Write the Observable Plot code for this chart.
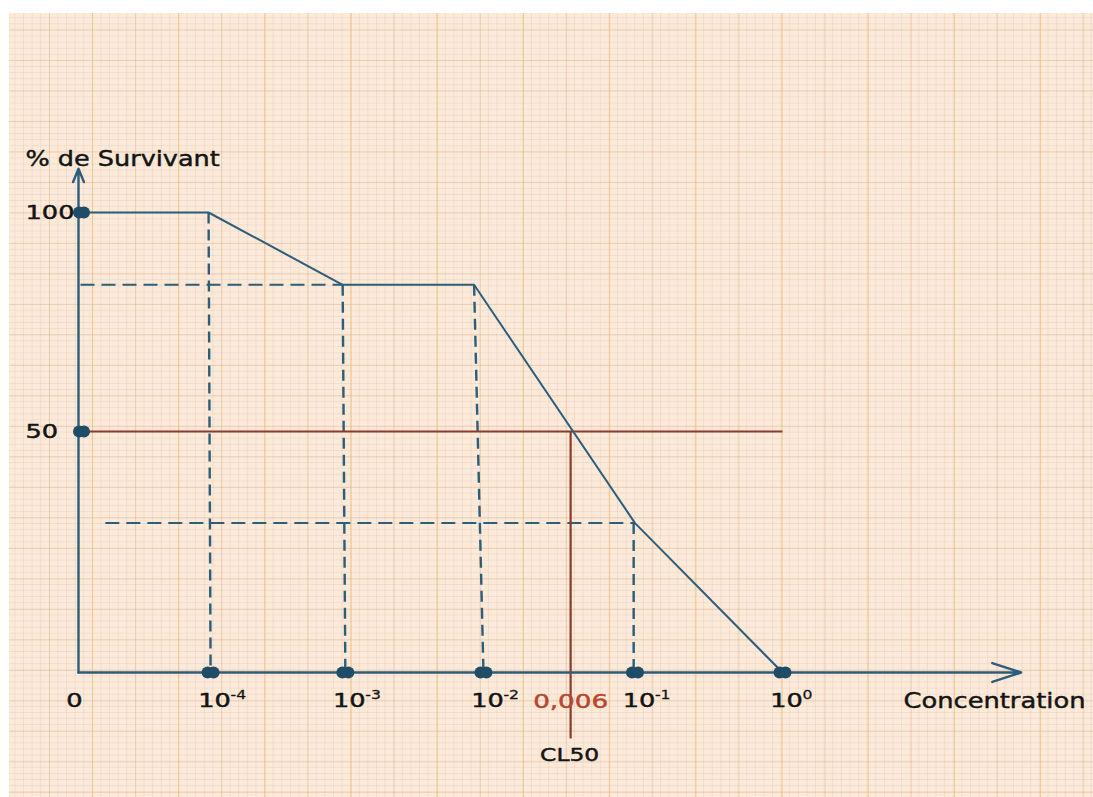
<!DOCTYPE html>
<html>
<head>
<meta charset="utf-8">
<script src="https://cdn.jsdelivr.net/npm/d3@7"></script>
<script src="https://cdn.jsdelivr.net/npm/@observablehq/plot@0.6"></script>
<style>
  html, body { margin: 0; padding: 0; background: #ffffff; }
  #wrap { position: relative; width: 1093px; height: 797px; overflow: hidden; }
  #paper {
    position: absolute; left: 9px; top: 13px; right: 0; bottom: 0;
    background-color: #fcead8;
    background-image:
      linear-gradient(to right, rgba(236,200,120,0.55) 1.4px, transparent 1.4px),
      linear-gradient(to bottom, rgba(236,200,120,0.55) 1.4px, transparent 1.4px),
      linear-gradient(to right, rgba(228,172,135,0.38) 1.1px, transparent 1.1px),
      linear-gradient(to bottom, rgba(228,172,135,0.38) 1.1px, transparent 1.1px),
      linear-gradient(to right, rgba(195,165,165,0.2) 1px, transparent 1px),
      linear-gradient(to bottom, rgba(195,165,165,0.2) 1px, transparent 1px);
    background-size: 86.2px 61px, 86.2px 61px, 43.1px 30.5px, 43.1px 30.5px, 8.62px 6.1px, 8.62px 6.1px;
    background-position: 83px 47px, 83px 47px, 40px 16.5px, 40px 16.5px, 5.4px 4.3px, 5.4px 4.3px;
  }
  #chart { position: absolute; left: 0; top: 0; }
</style>
</head>
<body>
<div id="wrap"><div id="paper"></div><div id="chart"></div></div>
<script>
// ---- data (x in "decade step" units along the hand-drawn axis, y in % survivors)
const curveX = [0, 0.97, 1.97, 2.95, 4.15, 5.25];
const curveY = [100, 100, 83.5, 83.5, 31, 0];

const tickPos = [0.985, 1.99, 3.02, 4.15, 5.25];
const tickBase = ["10", "10", "10", "10", "10"];
const tickExp = ["-4", "-3", "-2", "-1", "0"];

const yTicks = [100, 50];
const yTickLabels = ["100", "50"];

// dashed guide lines (from curve vertices to axes)
const dashVX1 = [0.97, 1.97, 2.95, 4.14];
const dashVY1 = [100, 83.5, 83.5, 31];
const dashVX2 = [0.985, 1.99, 3.02, 4.14];
const dashHY = [83.5, 31];
const dashHX1 = [0.015, 0.2];
const dashHX2 = [1.97, 4.15];

const cl50Pos = 3.67;
const cl50Value = "0,006";
const cl50Label = "CL50";
const xMax = 5.25;       // 10^0
const xArrowEnd = 7.03;
const yArrowEnd = 110;
const cl50LineBottom = -13.7;

const xTitle = "Concentration";
const xTitlePos = 6.152;
const yTitle = "% de Survivant";

// ---- build tables
const curve = curveX.map((x, i) => ({x, y: curveY[i]}));
const ticks = tickPos.map((x, i) => ({x, base: tickBase[i], exp: tickExp[i]}));
const dashV = dashVX1.map((x1, i) => ({x1, y1: dashVY1[i], x2: dashVX2[i], y2: 0}));
const dashH = dashHY.map((y, i) => ({y, x1: dashHX1[i], x2: dashHX2[i]}));
const yDots = yTicks.map((y, i) => ({y, label: yTickLabels[i]}));

const blue = "#2c5d7b";
const dotC = "#1f4d68";
const red = "#8c3a2c";
const redText = "#b9462f";
const ink = "#141414";
const font = "DejaVu Sans";
const dash = "11,6";

// hand-drawn vertical axis: 0 → 672px, 50 → 431px, 100 → 212px (piecewise linear)
const yPix = d3.scaleLinear().domain([0, 0.5, 1]).range([672, 431, 212]);

const txt = (extra) => Object.assign({textAnchor: "middle", lineAnchor: "bottom", fill: ink, stroke: ink, strokeWidth: 0.45}, extra);

const chart = Plot.plot({
  width: 1093,
  height: 797,
  marginLeft: 78, marginRight: 311, marginTop: 212, marginBottom: 125,
  x: {domain: [0, xMax], range: [78, 782], axis: null},
  y: {domain: [0, 100], interpolate: t => yPix(t), axis: null},
  style: {background: "transparent", fontFamily: font, overflow: "visible"},
  marks: [
    // dashed guides
    Plot.link(dashV, {x1: "x1", y1: "y1", x2: "x2", y2: "y2", stroke: blue, strokeWidth: 2.4, strokeDasharray: dash}),
    Plot.link(dashH, {x1: "x1", x2: "x2", y1: "y", y2: "y", stroke: blue, strokeWidth: 2, strokeDasharray: "14,7"}),
    // CL50 construction (red)
    Plot.link([50], {x1: 0, x2: xMax, y1: d => d, y2: d => d, stroke: red, strokeWidth: 2}),
    Plot.link([cl50Pos], {x1: d => d, x2: d => d, y1: 50, y2: cl50LineBottom, stroke: red, strokeWidth: 2.2}),
    // curve
    Plot.line(curve, {x: "x", y: "y", stroke: blue, strokeWidth: 2}),
    // axes with arrows
    Plot.arrow([0], {x1: 0, y1: 0, x2: xArrowEnd, y2: 0, stroke: blue, strokeWidth: 2.4, headLength: 19, headAngle: 36}),
    Plot.arrow([0], {x1: 0, y1: 0, x2: 0, y2: yArrowEnd, stroke: blue, strokeWidth: 2.4, headLength: 9, headAngle: 44}),
    // dots (elongated blobs)
    Plot.dot(ticks, {x: "x", y: 0, r: 6, dx: -3, fill: dotC}),
    Plot.dot(ticks, {x: "x", y: 0, r: 6, dx: 3, fill: dotC}),
    Plot.dot(yDots, {x: 0, y: "y", r: 6, dx: 0.5, fill: dotC}),
    Plot.dot(yDots, {x: 0, y: "y", r: 6, dx: 5.5, fill: dotC}),
    // texts
    Plot.text([yTitle], txt({x: 0, y: 100, text: d => d, dx: -53, dy: -47, textAnchor: "start", fontSize: 22, ariaDescription: "t-title"})),
    Plot.text(yDots, txt({x: 0, y: "y", text: "label", dx: -53, dy: 6, textAnchor: "start", fontSize: 19, ariaDescription: "t-digits"})),
    Plot.text(["0"], txt({x: 0, y: 0, text: d => d, dx: -4, dy: 34, fontSize: 19, ariaDescription: "t-digits"})),
    Plot.text(ticks, txt({x: "x", y: 0, text: "base", dx: 4, dy: 34, fontSize: 19, ariaDescription: "t-digits"})),
    Plot.text(ticks, txt({x: "x", y: 0, text: "exp", dx: 20, dy: 26, textAnchor: "start", fontSize: 13, strokeWidth: 0.3, ariaDescription: "t-exp"})),
    Plot.text([cl50Value], txt({x: cl50Pos, y: 0, text: d => d, dx: 0, dy: 35, fontSize: 19, fill: redText, stroke: redText, ariaDescription: "t-red"})),
    Plot.text([cl50Label], txt({x: cl50Pos, y: 0, text: d => d, dx: -1, dy: 88, fontSize: 18, ariaDescription: "t-cl"})),
    Plot.text([xTitle], txt({x: xTitlePos, y: 0, text: d => d, dx: 0, dy: 35, textAnchor: "start", fontSize: 22, ariaDescription: "t-xtitle"}))
  ]
});

// horizontal stretch of lettering to match the wide scanned font
const stretch = {"t-title": 1.16, "t-digits": 1.35, "t-exp": 1.2, "t-red": 1.38, "t-cl": 1.3, "t-xtitle": 1.17};
chart.querySelectorAll("g[aria-description]").forEach(g => {
  const s = stretch[g.getAttribute("aria-description")];
  if (!s) return;
  g.querySelectorAll("text").forEach(t => {
    let tr = t.getAttribute("transform");
    if (!tr) {
      const x = +(t.getAttribute("x") || 0), y = +(t.getAttribute("y") || 0);
      t.removeAttribute("x"); t.removeAttribute("y");
      tr = `translate(${x},${y})`;
    }
    t.setAttribute("transform", tr + ` scale(${s},1)`);
  });
});

document.getElementById("chart").appendChild(chart);
</script>
</body>
</html>
